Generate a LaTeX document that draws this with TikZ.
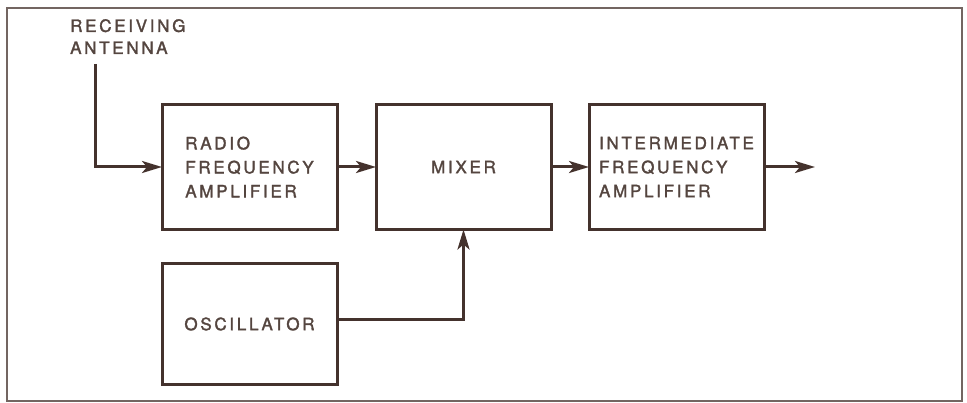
\documentclass[tikz,border=0pt]{standalone}
\usepackage{fontspec}
\newfontfamily\boxfont{TeX Gyre Heros}[LetterSpace=16, FakeBold=1.8]
\usetikzlibrary{arrows.meta,positioning}
\definecolor{ink}{HTML}{44322D}
\definecolor{print}{HTML}{54453F}

\begin{document}
\begin{tikzpicture}[
  x=1pt, y=-1pt,
  node distance=34pt and 39pt,
  block/.style={draw=ink, line width=3pt, outer sep=0pt, minimum width=175pt, minimum height=125pt, align=left, text=print, font=\boxfont\fontsize{17}{24}\selectfont},
  caption/.style={align=left, inner sep=0pt, text=print, font=\boxfont\fontsize{17}{22}\selectfont},
  flow/.style={draw=ink, line width=3pt, -{Stealth[length=20pt, width=12pt, inset=5pt]}},
  frame/.style={draw=ink!75, line width=2pt}
]
\useasboundingbox (0,0) rectangle (967,403);
\draw[frame] (7,8) rectangle (962,401);
\node[block] (rf) at (249.5,167) {RADIO\\FREQUENCY\\AMPLIFIER};
\node[block, right=of rf] (mixer) {MIXER};
\node[block, right=38pt of mixer] (ifamp) {INTERMEDIATE\\FREQUENCY\\AMPLIFIER};
\node[block, below=of rf, minimum height=121pt] (osc) {OSCILLATOR};
\node[caption, anchor=north west] (antenna) at (70,19) {RECEIVING\\ANTENNA};
\coordinate (ant) at (95,64);
\coordinate[right=51pt of ifamp] (out);
\draw[flow] (ant) |- (rf);
\draw[flow] (rf) -- (mixer);
\draw[flow] (mixer) -- (ifamp);
\draw[flow] (ifamp) -- (out);
\draw[flow] ([yshift=4pt]osc.east) -| (mixer.south);
\end{tikzpicture}
\end{document}
